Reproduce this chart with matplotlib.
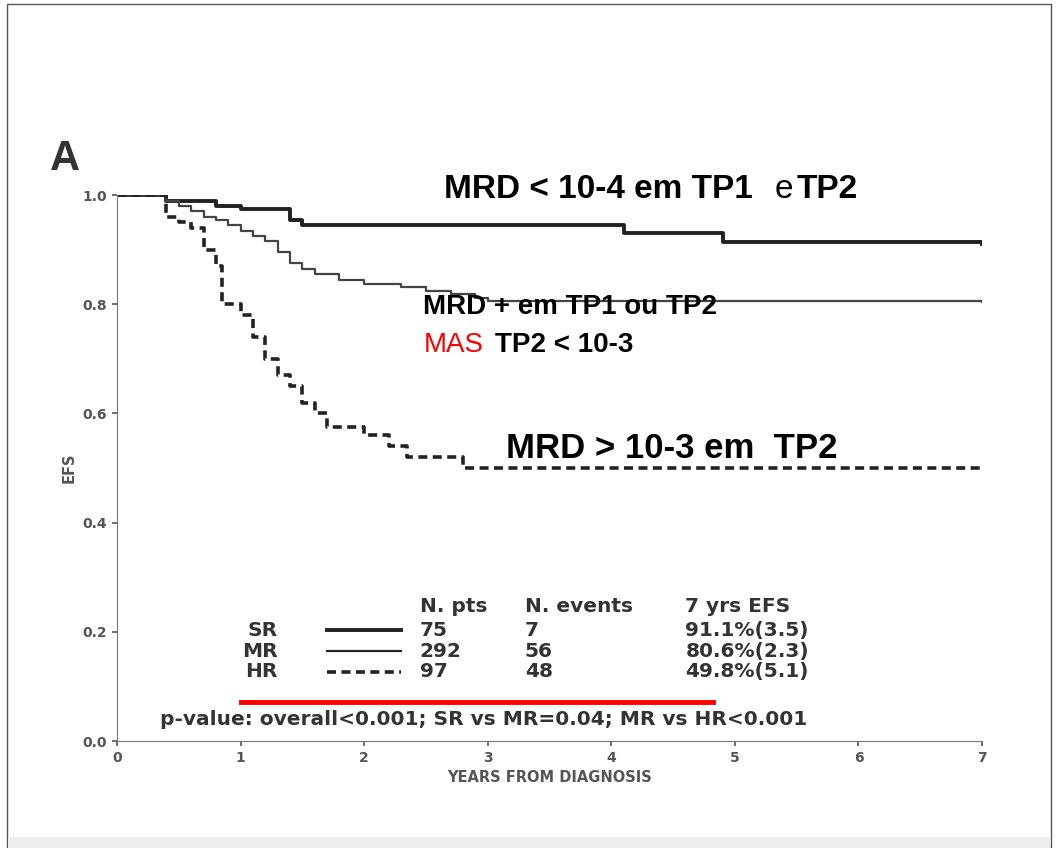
import matplotlib.pyplot as plt
from matplotlib.patches import Rectangle

plt.rcParams["font.family"] = ["Liberation Sans", "DejaVu Sans"]

# step curves (years, EFS)
sr_t = [0, 0.3, 0.4, 0.8, 1.0, 1.4, 1.5, 4.1, 4.9, 7.0]
sr_s = [1.0, 1.0, 0.99, 0.98, 0.975, 0.955, 0.945, 0.93, 0.914, 0.91]
mr_t = [0, 0.3, 0.4, 0.5, 0.6, 0.7, 0.8, 0.9, 1.0, 1.1, 1.2, 1.3, 1.4, 1.5, 1.6, 1.8, 2.0, 2.3, 2.5, 2.7, 2.9, 3.0, 7.0]
mr_s = [1.0, 1.0, 0.99, 0.98, 0.97, 0.96, 0.955, 0.945, 0.935, 0.925, 0.915, 0.895, 0.875, 0.865, 0.855, 0.845, 0.838, 0.832, 0.825, 0.818, 0.812, 0.806, 0.805]
hr_t = [0, 0.3, 0.4, 0.5, 0.6, 0.7, 0.8, 0.85, 1.0, 1.1, 1.2, 1.3, 1.4, 1.5, 1.6, 1.7, 2.0, 2.2, 2.35, 2.8, 7.0]
hr_s = [1.0, 1.0, 0.96, 0.95, 0.94, 0.9, 0.87, 0.8, 0.78, 0.74, 0.7, 0.67, 0.65, 0.62, 0.6, 0.575, 0.56, 0.54, 0.52, 0.50, 0.498]

groups = ["SR", "MR", "HR"]
n_pts = ["75", "292", "97"]
n_events = ["7", "56", "48"]
efs7 = ["91.1%(3.5)", "80.6%(2.3)", "49.8%(5.1)"]

fig = plt.figure(figsize=(10.58, 8.48), dpi=100)
fig.patches.append(Rectangle((0.007, 0.0), 0.986, 0.995, transform=fig.transFigure,
                             fill=False, edgecolor="#555555", lw=1))
fig.patches.append(Rectangle((0.008, 0.0), 0.984, 0.013, transform=fig.transFigure,
                             color="#eeeeee", lw=0))
ax = fig.add_axes([0.1106, 0.126, 0.8176, 0.644])

ax.step(sr_t, sr_s, where="post", color="#222222", lw=2.8)
ax.step(mr_t, mr_s, where="post", color="#444444", lw=1.6)
ax.step(hr_t, hr_s, where="post", color="#222222", lw=2.6, linestyle=(0, (2.5, 1.5)))

ax.set_xlim(0, 7)
ax.set_ylim(0, 1.0)
ax.set_xticks(range(8))
ax.set_yticks([0, 0.2, 0.4, 0.6, 0.8, 1.0])
ax.set_yticklabels(["0.0", "0.2", "0.4", "0.6", "0.8", "1.0"])
for s in ["top", "right"]:
    ax.spines[s].set_visible(False)
ax.spines["left"].set_color("#777777")
ax.spines["bottom"].set_color("#777777")
ax.tick_params(colors="#555555", labelsize=10, width=1.2)
for lab in ax.get_xticklabels() + ax.get_yticklabels():
    lab.set_fontweight("bold")
    lab.set_family("DejaVu Sans")
ax.set_xlabel("YEARS FROM DIAGNOSIS", color="#555555", fontsize=10.5,
              fontweight="bold", family="DejaVu Sans")
ax.set_ylabel("EFS", color="#555555", fontsize=10.5, fontweight="bold", family="DejaVu Sans")

fig.text(0.047, 0.8, "A", fontsize=30, fontweight="bold", color="#333333")

ax.text(2.65, 1.01, "MRD < 10-4 em TP1", fontsize=24, fontweight="bold", va="center")
ax.text(5.32, 1.01, "e", fontsize=24, va="center")
ax.text(5.5, 1.01, "TP2", fontsize=24, fontweight="bold", va="center")
ax.text(2.48, 0.795, "MRD + em TP1 ou TP2", fontsize=20, fontweight="bold", va="center")
ax.text(2.48, 0.725, "MAS", fontsize=20, color="red", va="center")
ax.text(3.06, 0.725, "TP2 < 10-3", fontsize=20, fontweight="bold", va="center")
ax.text(3.15, 0.535, "MRD > 10-3 em  TP2", fontsize=25, fontweight="bold", va="center")

# embedded table
kw = dict(fontsize=14.5, color="#333333", va="center", family="DejaVu Sans", fontweight="bold")
ax.text(2.45, 0.247, "N. pts", **kw)
ax.text(3.3, 0.247, "N. events", **kw)
ax.text(4.6, 0.247, "7 yrs EFS", **kw)
ys = [0.203, 0.165, 0.127]
styles = [dict(lw=2.8), dict(lw=1.6), dict(lw=2.6, linestyle=(0, (2.5, 1.5)))]
for i, g in enumerate(groups):
    y = ys[i]
    ax.text(1.3, y, g, ha="right", **kw)
    ax.plot([1.7, 2.3], [y, y], color="#222222", **styles[i])
    ax.text(2.45, y, n_pts[i], **kw)
    ax.text(3.3, y, n_events[i], **kw)
    ax.text(4.6, y, efs7[i], **kw)
ax.plot([1.0, 4.82], [0.072, 0.072], color="red", lw=3.5)
ax.text(0.35, 0.04, "p-value: overall<0.001; SR vs MR=0.04; MR vs HR<0.001", **kw)

fig.savefig("out.png", dpi=100)
